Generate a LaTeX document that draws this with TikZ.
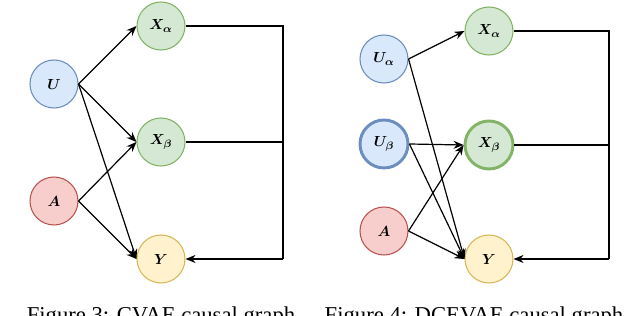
\documentclass[tikz,border=0pt]{standalone}
\usepackage{fontspec}
\usepackage{bm}
\setmainfont{Liberation Serif}
\usetikzlibrary{arrows.meta}
\definecolor{bfill}{HTML}{DAE8FC}\definecolor{bline}{HTML}{6C8EBF}
\definecolor{rfill}{HTML}{F8CECC}\definecolor{rline}{HTML}{B85450}
\definecolor{gfill}{HTML}{D5E8D4}\definecolor{gline}{HTML}{82B366}
\definecolor{yfill}{HTML}{FFF2CC}\definecolor{yline}{HTML}{D6B656}
\tikzset{
  var/.style={circle,minimum size=36pt,inner sep=0pt,line width=0.8pt,font=\fontsize{11}{13}\selectfont},
  bluev/.style={var,fill=bfill,draw=bline},
  redv/.style={var,fill=rfill,draw=rline},
  greenv/.style={var,fill=gfill,draw=gline},
  yellowv/.style={var,fill=yfill,draw=yline},
  thickv/.style={line width=2.2pt},
  edge/.style={-{Stealth[length=7.5pt,width=6pt]},line width=0.9pt,black},
  plain/.style={line width=0.9pt,black},
  captext/.style={font=\fontsize{17}{20}\selectfont,anchor=base}
}
\begin{document}
\begin{tikzpicture}[x=0.75pt,y=-0.75pt]
\useasboundingbox (0,0) rectangle (640,316);
\clip (0,0) rectangle (640,316);
% left graph
\node[bluev] (U) at (54,84) {$\bm{U}$};
\node[redv] (A) at (54,201) {$\bm{A}$};
\node[greenv] (Xa) at (161,26) {$\bm{X_\alpha}$};
\node[greenv] (Xb) at (161,142) {$\bm{X_\beta}$};
\node[yellowv] (Y) at (161,259) {$\bm{Y}$};
\coordinate (R1) at (283,26);
\coordinate (R2) at (283,142);
\coordinate (R3) at (283,259);
\draw[edge] (U.east) -- (Xa.west);
\draw[edge] (U.east) -- (Xb.west);
\draw[edge] (U.east) -- (Y.west);
\draw[edge] (A.east) -- (Xb.west);
\draw[edge] (A.east) -- (Y.west);
\draw[plain] (Xa.east) -- (R1) -- (R3);
\draw[plain] (Xb.east) -- (R2);
\draw[edge] (R3) -- (Y.east);
% right graph
\node[bluev] (Ua) at (384,59) {$\bm{U_\alpha}$};
\node[bluev,thickv] (Ub) at (384,144) {$\bm{U_\beta}$};
\node[redv] (A2) at (384,231) {$\bm{A}$};
\node[greenv] (Xa2) at (489,31) {$\bm{X_\alpha}$};
\node[greenv,thickv] (Xb2) at (489,145) {$\bm{X_\beta}$};
\node[yellowv] (Y2) at (489,259) {$\bm{Y}$};
\coordinate (S1) at (609,31);
\coordinate (S2) at (609,145);
\coordinate (S3) at (609,259);
\draw[edge] (Ua.east) -- (Xa2.west);
\draw[edge] (Ua.east) -- (Y2.west);
\draw[edge] (Ub.east) -- (Xb2.west);
\draw[edge] (Ub.east) -- (Y2.west);
\draw[edge] (A2.east) -- (Xb2.west);
\draw[edge] (A2.east) -- (Y2.west);
\draw[plain] (Xa2.east) -- (S1) -- (S3);
\draw[plain] (Xb2.east) -- (S2);
\draw[edge] (S3) -- (Y2.east);
% captions
\node[captext] (c1) at (161,323) {Figure 3: CVAE causal graph};
\node[captext] (c2) at (474,323) {Figure 4: DCEVAE causal graph};
\end{tikzpicture}
\end{document}
